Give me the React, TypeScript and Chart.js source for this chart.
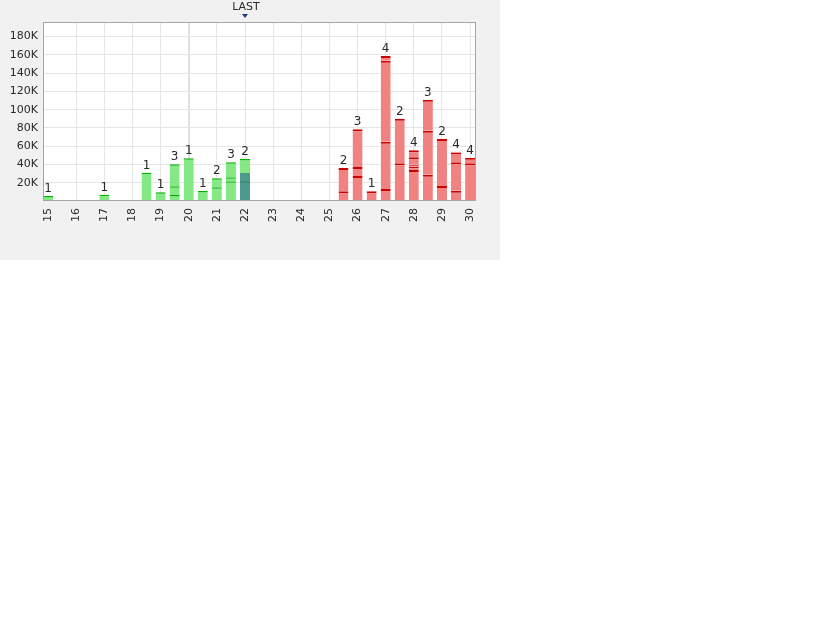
import { useEffect, useRef } from 'react';
import { Chart, registerables } from 'chart.js';

Chart.register(...registerables);

// ---- data (values in thousands) ----
const days = [15, 17, 18.5, 19, 19.5, 20, 20.5, 21, 21.5, 22, 25.5, 26, 26.5, 27, 27.5, 28, 28.5, 29, 29.5, 30];
const sides = ['buy', 'buy', 'buy', 'buy', 'buy', 'buy', 'buy', 'buy', 'buy', 'buy',
  'sell', 'sell', 'sell', 'sell', 'sell', 'sell', 'sell', 'sell', 'sell', 'sell'];
const seg1 = [5.5, 6.9, 31, 9.5, 6.6, 46.8, 11, 15, 21.6, 21.6, 10.6, 27.4, 10.6, 13.1, 41.3, 34, 28.8, 16.4, 11.3, 41.3];
const seg2 = [null, null, null, null, 9.5, null, null, 9.9, 4.4, 24.4, 25.5, 9.8, null, 51.9, 48.8, 3.6, 48.2, 51.5, 31.1, 6.1];
const seg3 = [null, null, null, null, 24.1, null, null, null, 16.4, null, null, 41.3, null, 88.7, null, 2.2, 34, null, 10.6, null];
const seg4 = [null, null, null, null, null, null, null, null, null, null, null, null, null, 5.1, null, 8.1, null, null, 1.0, null];
const seg5 = [null, null, null, null, null, null, null, null, null, null, null, null, null, null, null, 7.6, null, null, null, null];
const counts = [1, 1, 1, 1, 3, 1, 1, 2, 3, 2, 2, 3, 1, 4, 2, 4, 3, 2, 4, 4];
const highlight = [null, null, null, null, null, null, null, null, null, 30.7, null, null, null, null, null, null, null, null, null, null];
const lastDay = 22;
const lastLabel = 'LAST';
const tickDays = [15, 16, 17, 18, 19, 20, 21, 22, 23, 24, 25, 26, 27, 28, 29, 30];
const tickLabels = ['15', '16', '17', '18', '19', '20', '21', '22', '23', '24', '25', '26', '27', '28', '29', '30'];
const yTickValues = [20000, 40000, 60000, 80000, 100000, 120000, 140000, 160000, 180000];
const yTickLabels = ['20K', '40K', '60K', '80K', '100K', '120K', '140K', '160K', '180K'];

const FONT = '"DejaVu Sans", sans-serif';
const GREEN = '#84e884';
const GREEN_LINE = '#00b000';
const RED = '#f08282';
const RED_LINE = '#cc0000';
const TEXT = '#2a2a2a';

export default function App() {
  const ref = useRef<HTMLCanvasElement>(null);

  useEffect(() => {
    if (!ref.current) return;
    const toPts = (arr: (number | null)[]) =>
      days.map((d, i) => ({ x: d, y: arr[i] == null ? null : (arr[i] as number) * 1000 }));
    const isBuy = (c: any) => sides[c.dataIndex] === 'buy';

    const segDatasets = [seg1, seg2, seg3, seg4, seg5].map((s) => ({
      type: 'bar' as const,
      data: toPts(s),
      stack: 'main',
      barThickness: 10,
      inflateAmount: 0,
      backgroundColor: (c: any) => (isBuy(c) ? GREEN : RED),
      borderColor: (c: any) => (isBuy(c) ? GREEN_LINE : RED_LINE),
      borderWidth: (c: any) => ({ top: isBuy(c) ? 1.5 : 2, left: 0, right: 0, bottom: 0 }),
      borderSkipped: 'bottom' as const,
    }));

    const hlDataset = {
      type: 'bar' as const,
      data: toPts(highlight),
      stack: 'hl',
      grouped: false,
      barThickness: 10,
      inflateAmount: 0,
      backgroundColor: 'rgba(38,104,147,0.6)',
      borderWidth: 0,
    };

    const decor = {
      id: 'decor',
      beforeDraw(chart: any) {
        const { ctx, chartArea: a } = chart;
        ctx.save();
        ctx.fillStyle = '#ffffff';
        ctx.fillRect(a.left, a.top, a.right - a.left, a.bottom - a.top);
        ctx.restore();
      },
      afterDatasetsDraw(chart: any) {
        const { ctx, chartArea: a, scales } = chart;
        ctx.save();
        ctx.strokeStyle = '#a4a4a4';
        ctx.lineWidth = 1;
        ctx.strokeRect(Math.round(a.left) + 0.5, Math.round(a.top) + 0.5,
          Math.round(a.right - a.left) - 1, Math.round(a.bottom - a.top) - 1);
        // count labels
        ctx.fillStyle = TEXT;
        ctx.font = `12px ${FONT}`;
        ctx.textAlign = 'center';
        ctx.textBaseline = 'alphabetic';
        days.forEach((d, i) => {
          const total = [seg1, seg2, seg3, seg4, seg5].reduce((acc, s) => acc + ((s[i] as number) || 0), 0);
          const x = scales.x.getPixelForValue(d);
          const y = scales.y.getPixelForValue(total * 1000);
          ctx.fillText(String(counts[i]), x, y - 4);
        });
        ctx.restore();
      },
      afterDraw(chart: any) {
        const { ctx, scales } = chart;
        const x = scales.x.getPixelForValue(lastDay);
        ctx.save();
        ctx.fillStyle = TEXT;
        ctx.font = `11px ${FONT}`;
        ctx.textAlign = 'center';
        ctx.textBaseline = 'alphabetic';
        ctx.fillText(lastLabel, x + 1, 10);
        ctx.fillStyle = '#1a3a8c';
        ctx.beginPath();
        ctx.moveTo(x - 3, 14);
        ctx.lineTo(x + 3, 14);
        ctx.lineTo(x, 18);
        ctx.closePath();
        ctx.fill();
        ctx.restore();
      },
    };

    const chart = new Chart(ref.current, {
      type: 'bar',
      data: { datasets: [hlDataset, ...segDatasets] as any },
      options: {
        animation: false,
        responsive: false,
        devicePixelRatio: 1,
        layout: { padding: { top: 22, right: 24, bottom: 0, left: 0 } },
        plugins: { legend: { display: false }, tooltip: { enabled: false } },
        scales: {
          x: {
            type: 'linear',
            min: 14.82,
            max: 30.21,
            offset: false,
            stacked: true,
            afterBuildTicks: (s: any) => {
              s.ticks = tickDays.map((v) => ({ value: v }));
            },
            afterFit: (s: any) => {
              s.height = 59;
            },
            ticks: {
              autoSkip: false,
              minRotation: 90,
              maxRotation: 90,
              padding: 7,
              color: TEXT,
              font: { family: FONT, size: 11 },
              callback: (_v: any, i: number) => tickLabels[i],
            },
            grid: {
              offset: false,
              drawTicks: false,
              color: (c: any) =>
                c.tick && c.tick.value === 15 ? 'rgba(0,0,0,0)' : c.tick && c.tick.value === 20 ? '#e0e0e0' : '#e6e6e6',
              lineWidth: (c: any) => (c.tick && c.tick.value === 20 ? 2 : 1),
            },
            border: { display: false },
          },
          y: {
            type: 'linear',
            min: 0,
            max: 196000,
            stacked: true,
            afterBuildTicks: (s: any) => {
              s.ticks = yTickValues.map((v) => ({ value: v }));
            },
            afterFit: (s: any) => {
              s.width = 43;
            },
            ticks: {
              padding: 5,
              color: TEXT,
              font: { family: FONT, size: 11 },
              callback: (_v: any, i: number) => yTickLabels[i],
            },
            grid: { drawTicks: false, color: '#e6e6e6' },
            border: { display: false },
          },
        },
      },
      plugins: [decor],
    });
    return () => chart.destroy();
  }, []);

  return (
    <div style={{ position: 'absolute', left: 0, top: 0, width: 500, height: 260, background: '#f1f1f1' }}>
      <canvas ref={ref} width={500} height={260} style={{ display: 'block' }} />
    </div>
  );
}
